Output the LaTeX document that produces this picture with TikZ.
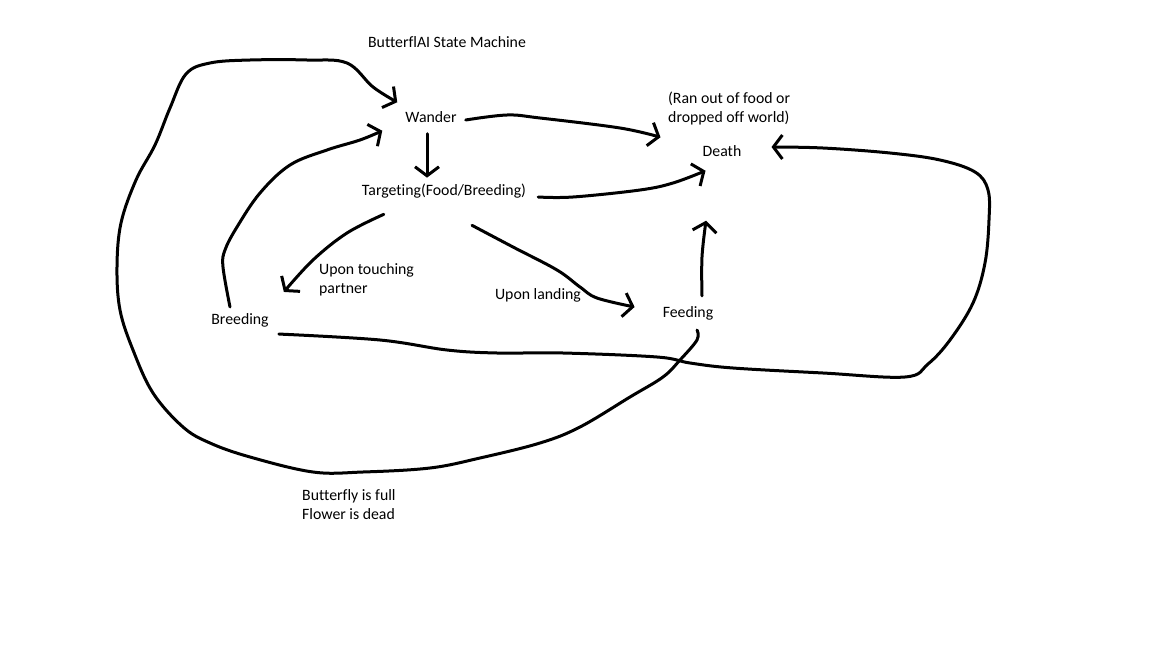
\documentclass[tikz,border=0pt]{standalone}
\usepackage{fontspec}
\setmainfont{Carlito}[Ligatures=NoCommon]
\usetikzlibrary{arrows.meta}

\begin{document}
\begin{tikzpicture}[x=1pt, y=-1pt, line cap=round, line join=round,
		node_style/.style={inner sep=6pt,font=\fontsize{15.8}{19}\selectfont},
		note_style/.style={inner sep=0pt,align=left,anchor=west,font=\fontsize{15.8}{19}\selectfont},
		edge_style/.style={draw=black,line width=3pt,-{Straight Barb[length=9pt,width=24pt]}}]
		
		\useasboundingbox (0,0) rectangle (1152,648);
		
		\node[node_style] (title) at (447,42)  {ButterflAI State Machine};
		\node[node_style] (wander) at (431,117)  {Wander};
		\node[node_style] (target) at (444,191)  {Targeting(Food/Breeding)};
		\node[node_style] (death) at (722,151)  {Death};
		\node[node_style] (breed) at (240,320)  {Breeding};
		\node[node_style] (feed) at (688,313)  {Feeding};
		
		\node[note_style] (ranout) at (668,108)  {(Ran out of food or\\dropped off world)};
		\node[note_style] (touch) at (319,280)  {Upon touching\\partner};
		\node[node_style] (landing) at (538,295)  {Upon landing};
		\node[note_style] (full) at (302,505)  {Butterfly is full\\Flower is dead};
		
		% feeding back to wander, round the outside
		\draw[edge_style] plot[smooth,tension=0.6] coordinates {([shift={(9,4)}]feed.south) (697,340) (680,360) (663,377) (630,397) (580,427) (540,443) (480,458) (430,468) (363,472) (313,472) (250,457) (210,443) (183,427) (153,393) (133,350) (120,310) (117,267) (121,223) (136,180) (155,145) (170,108) (186,74) (210,63) (250,60) (307,60) (347,63) (373,87) ([shift={(-2,-3)}]wander.north west)};
		
		\draw[edge_style] plot[smooth,tension=0.6] coordinates {([shift={(-10,0)}]breed.north) (223,267) (225,250) (237,227) (260,193) (290,165) (327,150) (360,140) ([shift={(-17,2)}]wander.south west)};
		
		\draw[edge_style] ([shift={(-4,5)}]wander.south) -- ([shift={(-4,0)}]wander.south |- target.north);
		
		\draw[edge_style] plot[smooth,tension=0.6] coordinates {([shift={(3,3)}]wander.east) (507,115) (540,118) (620,128) ([shift={(-36,-2)}]death.north west)};
		
		\draw[edge_style] plot[smooth,tension=0.6] coordinates {([shift={(6,6)}]target.east) (573,197) (640,190) (673,183) ([shift={(9,8)}]death.south west)};
		
		\draw[edge_style] plot[smooth,tension=0.6] coordinates {([shift={(28,10)}]target.south west) (347,233) (313,260) ([shift={(9,-15)}]breed.north east)};
		
		\draw[edge_style] plot[smooth,tension=0.6] coordinates {([shift={(28,21)}]target.south) (513,247) (557,270) (580,287) (597,298) ([shift={(-22,-6)}]feed.west)};
		
		\draw[edge_style] plot[smooth,tension=0.6] coordinates {([shift={(14,-4)}]feed.north) (702,257) ([shift={(-16,58)}]death.south)};
		
		% breeding to death, round the right side
		\draw[edge_style] plot[smooth,tension=0.6] coordinates {([shift={(4,1)}]breed.south east) (380,340) (447,350) (497,353) (563,353) (657,357) (690,363) (733,368) (823,373) (905,377) (928,364) (950,340) (973,303) (985,263) (989,220) (988,190) (975,172) (940,160) (890,153) (823,148) ([shift={(24,-4)}]death.east)};
		
\end{tikzpicture}
\end{document}
